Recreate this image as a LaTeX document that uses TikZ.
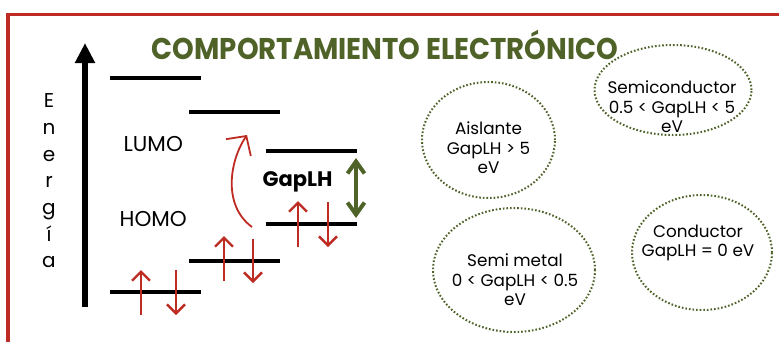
\documentclass[tikz,border=0pt]{standalone}
\usepackage{fontspec}
\setmainfont{Poppins}
\usepackage{xcolor}
\definecolor{marco}{HTML}{BE2B22}
\definecolor{olivo}{HTML}{4F6228}
\definecolor{espin}{HTML}{BE2B22}
\usetikzlibrary{arrows.meta,shapes.geometric}

\begin{document}
\begin{tikzpicture}[x=1pt, y=-1pt,
  nivel/.style={fill=black, inner sep=0pt, minimum width=91pt, minimum height=4pt},
  espinflecha/.style={espin, line width=2.4pt, -{Straight Barb[length=9pt,width=18pt]}},
  etiqueta/.style={font=\fontsize{21.5}{24}\selectfont, inner sep=0pt, anchor=base},
  clase/.style={ellipse, draw=olivo, line width=2pt, dash pattern=on 1.6pt off 2pt, inner sep=0pt},
  clasetxt/.style={align=center, inner sep=0pt, font=\fontsize{16.8}{19.5}\selectfont}
]
  \clip (0,0) rectangle (779,341);
  \fill[white] (0,0) rectangle (779,341);
  \draw[marco, line width=3.5pt] (8,14.5) rectangle (800,360);

  \node[font=\bfseries\fontsize{30}{30}\selectfont, text=olivo, inner sep=0pt] (titulo) at (385,44.5)
    {\scalebox{0.92}[1]{COMPORTAMIENTO ELECTRÓNICO}};

  % eje de energia
  \coordinate (ejeabajo) at (85,307);
  \coordinate (ejearriba) at (85,43);
  \draw[line width=6pt, -{Triangle[length=20pt,width=19pt]}] (ejeabajo) -- (ejearriba);
  \node[align=center, font=\fontsize{20}{26.7}\selectfont, inner sep=0pt, anchor=north] (energia) at (49,93.5) {E\\n\\e\\r\\g\\í\\a};

  % niveles
  \node[nivel] (l1) at (155.5,78) {};
  \node[nivel] (l2) at (234.5,112) {};
  \node[nivel] (l3) at (311,151) {};
  \node[nivel] (l4) at (311,224) {};
  \node[nivel] (l5) at (234.5,261) {};
  \node[nivel] (l6) at (155.5,292) {};

  \node[etiqueta] (lumo) at (153.3,151.7) {LUMO};
  \node[etiqueta] (homo) at (153.3,226) {HOMO};
  \node[etiqueta, font=\bfseries\fontsize{21}{24}\selectfont] (gap) at (297.5,186.7) {GapLH};

  % espines
  \coordinate (s1a) at (141,315); \coordinate (s1b) at (141,270);
  \coordinate (s2a) at (176,270); \coordinate (s2b) at (176,315);
  \coordinate (s3a) at (224,281); \coordinate (s3b) at (224,236);
  \coordinate (s4a) at (253,239); \coordinate (s4b) at (253,283);
  \coordinate (s5a) at (298,247); \coordinate (s5b) at (298,201);
  \coordinate (s6a) at (328,202); \coordinate (s6b) at (328,247);
  \draw[espinflecha] (s1a) -- (s1b);
  \draw[espinflecha] (s2a) -- (s2b);
  \draw[espinflecha] (s3a) -- (s3b);
  \draw[espinflecha] (s4a) -- (s4b);
  \draw[espinflecha] (s5a) -- (s5b);
  \draw[espinflecha] (s6a) -- (s6b);

  \coordinate (salto0) at (252,227);
  \coordinate (salto1) at (247,135);
  \draw[espin, line width=1.8pt, -{Straight Barb[length=14pt,width=30pt]}]
    (salto0) .. controls (222,205) and (230,160) .. (salto1);

  \coordinate (gapabajo) at (356,218);
  \coordinate (gaparriba) at (356,158);
  \draw[olivo, line width=4pt, {Straight Barb[length=12pt,width=17pt]}-{Straight Barb[length=12pt,width=17pt]}] (gapabajo) -- (gaparriba);

  % clasificacion
  \node[clase, minimum width=133pt, minimum height=116pt] (aislante) at (488.5,140) {};
  \node[clasetxt] (aislantetxt) at (488.5,148) {Aislante\\GapLH > 5\\eV};
  \node[clase, minimum width=157pt, minimum height=90pt] (semicond) at (673,90) {};
  \node[clasetxt] (semicondtxt) at (672,107) {Semiconductor\\0.5 < GapLH < 5\\eV};
  \node[clase, minimum width=162pt, minimum height=124pt] (semimetal) at (514,270) {};
  \node[clasetxt] (semimetaltxt) at (515,280) {Semi metal\\0 < GapLH < 0.5\\eV};
  \node[clase, minimum width=140pt, minimum height=115pt] (conductor) at (702,252.5) {};
  \node[clasetxt] (conductortxt) at (698,243) {Conductor\\GapLH = 0 eV};
\end{tikzpicture}
\end{document}
